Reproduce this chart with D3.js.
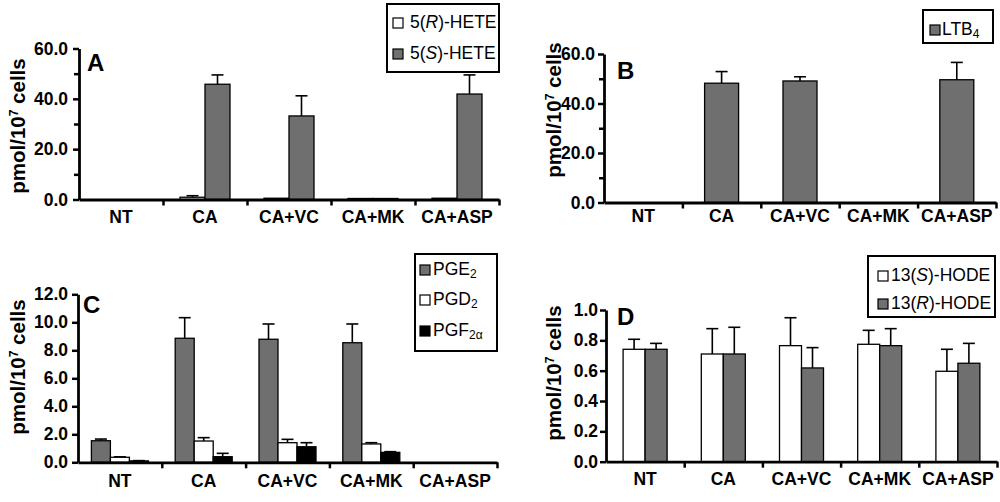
<!DOCTYPE html>
<html>
<head>
<meta charset="utf-8">
<script src="https://cdn.jsdelivr.net/npm/d3@7"></script>
<style>
body { margin: 0; background: #fff; }
text { font-family: "Liberation Sans", Arial, sans-serif; }
</style>
</head>
<body>
<svg id="chart" width="1000" height="502"></svg>
<script>
// categories shared by all four panels
var groups = ["NT", "CA", "CA+VC", "CA+MK", "CA+ASP"];

// panel A: 5-HETE enantiomers
var hete5R    = [0, 0.9, 0.5, 0.4, 0.5];
var hete5RErr = [0, 0.6, 0, 0, 0];
var hete5S    = [0, 45.8, 33.2, 0.4, 41.9];
var hete5SErr = [0, 3.7, 8.0, 0, 7.6];

// panel B: LTB4
var ltb4    = [0, 48.2, 49.1, 0, 49.6];
var ltb4Err = [0, 4.7, 1.7, 0, 7.0];

// panel C: prostaglandins
var pge2     = [1.54, 8.86, 8.79, 8.54, 0];
var pge2Err  = [0.12, 1.47, 1.09, 1.34, 0];
var pgd2     = [0.36, 1.52, 1.40, 1.31, 0];
var pgd2Err  = [0.03, 0.24, 0.24, 0.09, 0];
var pgf2a    = [0.10, 0.40, 1.11, 0.71, 0];
var pgf2aErr = [0.02, 0.24, 0.29, 0.05, 0];

// panel D: 13-HODE enantiomers
var hode13S    = [0.741, 0.710, 0.765, 0.774, 0.596];
var hode13SErr = [0.066, 0.167, 0.184, 0.092, 0.145];
var hode13R    = [0.741, 0.710, 0.618, 0.765, 0.649];
var hode13RErr = [0.039, 0.176, 0.134, 0.112, 0.131];

var GREY = "#6f6f6f", WHITE = "#ffffff", BLACK = "#000000";

var svg = d3.select("#chart");

var panels = [
  { id: "A", left: 79, right: 499, bottom: 199.5, top: 48.5, max: 60, step: 20, minor: true, barW: 25,
    title: [87, 71], ylab: [25, 126], xlabY: 223, pad: 5,
    series: [
      { values: hete5R, err: hete5RErr, color: WHITE, label: [["5("], ["R", "i"], [")-HETE"]] },
      { values: hete5S, err: hete5SErr, color: GREY,  label: [["5("], ["S", "i"], [")-HETE"]] }
    ],
    legend: { x: 387, y: 4, w: 112, h: 68, sx: 393, tx: 410, rows: [18, 49] } },
  { id: "B", left: 604, right: 996, bottom: 202.5, top: 54, max: 60, step: 20, minor: true, barW: 34,
    title: [617, 79], ylab: [561, 110], xlabY: 222, pad: 3,
    series: [
      { values: ltb4, err: ltb4Err, color: GREY, label: [["LTB"], ["4", "s"]] }
    ],
    legend: { x: 923, y: 10, w: 70, h: 33, sx: 930, tx: 942, rows: [25] } },
  { id: "C", left: 78, right: 497, bottom: 462.3, top: 294.3, max: 12, step: 2, minor: false, barW: 19,
    title: [83, 313], ylab: [25, 367], xlabY: 487, pad: 4,
    series: [
      { values: pge2,  err: pge2Err,  color: GREY,  label: [["PGE"], ["2", "s"]] },
      { values: pgd2,  err: pgd2Err,  color: WHITE, label: [["PGD"], ["2", "s"]] },
      { values: pgf2a, err: pgf2aErr, color: BLACK, label: [["PGF"], ["2\u03b1", "s"]] }
    ],
    legend: { x: 415, y: 254, w: 82, h: 97, sx: 420, tx: 433, rows: [265, 295, 326] } },
  { id: "D", left: 606, right: 997, bottom: 461.7, top: 310, max: 1, step: 0.2, minor: false, barW: 22,
    title: [617, 325], ylab: [561, 373], xlabY: 485, pad: 2,
    series: [
      { values: hode13S, err: hode13SErr, color: WHITE, label: [["13("], ["S", "i"], [")-HODE"]] },
      { values: hode13R, err: hode13RErr, color: GREY,  label: [["13("], ["R", "i"], [")-HODE"]] }
    ],
    legend: { x: 868, y: 256, w: 127, h: 61, sx: 878, tx: 891, rows: [271, 299] } }
];

function addParts(textSel, parts) {
  parts.forEach(function (p) {
    var t = textSel.append("tspan").text(p[0]);
    if (p[1] == "i") t.attr("font-style", "italic");
    if (p[1] == "s") t.attr("font-size", "12px").attr("baseline-shift", "-3");
  });
}

function drawPanel(p) {
  var g = svg.append("g").attr("class", "panel-" + p.id);
  var x = d3.scaleBand().domain(groups).range([p.left, p.right]);
  var y = d3.scaleLinear().domain([0, p.max]).range([p.bottom, p.top]);
  var n = p.series.length;
  var off = d3.scaleBand().domain(d3.range(n)).range([-n * p.barW / 2, n * p.barW / 2]);

  p.series.forEach(function (s, i) {
    var data = groups.map(function (gr, j) {
      return { g: gr, v: s.values[j], e: s.err[j] };
    }).filter(function (d) { return d.v > 0; });

    var cx = function (d) { return x(d.g) + x.bandwidth() / 2 + off(i) + p.barW / 2; };

    // error bars (upper only)
    var eb = data.filter(function (d) { return d.e > 0; });
    g.selectAll(null).data(eb).enter().append("line")
      .attr("x1", cx).attr("x2", cx)
      .attr("y1", function (d) { return y(d.v); })
      .attr("y2", function (d) { return y(d.v + d.e); })
      .attr("stroke", "#000").attr("stroke-width", 1.6);
    g.selectAll(null).data(eb).enter().append("line")
      .attr("x1", function (d) { return cx(d) - 6; })
      .attr("x2", function (d) { return cx(d) + 6; })
      .attr("y1", function (d) { return y(d.v + d.e); })
      .attr("y2", function (d) { return y(d.v + d.e); })
      .attr("stroke", "#000").attr("stroke-width", 1.6);

    g.selectAll(null).data(data).enter().append("rect")
      .attr("x", function (d) { return x(d.g) + x.bandwidth() / 2 + off(i); })
      .attr("y", function (d) { return y(d.v); })
      .attr("width", p.barW)
      .attr("height", function (d) { return Math.max(1, y(0) - y(d.v)); })
      .attr("fill", s.color)
      .attr("stroke", "#000")
      .attr("stroke-width", 1.3);
  });

  // y axis
  var majors = d3.range(0, p.max + p.step / 2, p.step);
  var yAxis = g.append("g").attr("transform", "translate(" + p.left + ",0)")
    .call(d3.axisLeft(y).tickValues(majors).tickFormat(d3.format(".1f"))
      .tickSize(6).tickSizeOuter(0).tickPadding(p.pad));
  if (p.minor) {
    var minors = majors.slice(1).map(function (v) { return v - p.step / 2; });
    g.append("g").attr("transform", "translate(" + p.left + ",0)")
      .call(d3.axisLeft(y).tickValues(minors).tickFormat("").tickSize(5).tickSizeOuter(0))
      .call(function (a) { a.select(".domain").remove(); })
      .selectAll("line").attr("stroke-width", 2.5);
  }
  yAxis.select(".domain").attr("stroke-width", 2.8);
  yAxis.selectAll(".tick line").attr("stroke-width", 2.5);
  yAxis.selectAll(".tick text")
    .attr("font-family", "'Liberation Sans', Arial, sans-serif")
    .attr("font-size", "17.5px").attr("font-weight", "bold").attr("fill", "#000");

  // x axis: ticks at category boundaries, labels at centres
  var xb = d3.scaleLinear().domain([0, groups.length]).range([p.left, p.right]);
  var xAxis = g.append("g").attr("transform", "translate(0," + p.bottom + ")")
    .call(d3.axisBottom(xb).tickValues(d3.range(1, groups.length + 1)).tickFormat("")
      .tickSize(6).tickSizeOuter(0));
  xAxis.select(".domain").attr("stroke-width", 2.8);
  xAxis.selectAll(".tick line").attr("stroke-width", 2.5);

  g.selectAll(null).data(groups).enter().append("text")
    .attr("x", function (d) { return x(d) + x.bandwidth() / 2; })
    .attr("y", p.xlabY)
    .attr("text-anchor", "middle")
    .attr("font-size", "17.5px").attr("font-weight", "bold")
    .text(function (d) { return d; });

  // y label
  var yl = g.append("text")
    .attr("transform", "translate(" + p.ylab[0] + "," + p.ylab[1] + ") rotate(-90)")
    .attr("text-anchor", "middle")
    .attr("font-size", "20.5px").attr("font-weight", "bold");
  yl.append("tspan").text("pmol/10");
  yl.append("tspan").text("7").attr("font-size", "12px").attr("baseline-shift", "7");
  yl.append("tspan").text(" cells");

  // panel letter
  g.append("text").attr("x", p.title[0]).attr("y", p.title[1])
    .attr("font-size", "24px").attr("font-weight", "bold").text(p.id);

  // legend
  var L = p.legend;
  var lg = g.append("g").attr("class", "legend");
  lg.append("rect").attr("x", L.x).attr("y", L.y).attr("width", L.w).attr("height", L.h)
    .attr("fill", "#fff").attr("stroke", "#000").attr("stroke-width", 2);
  p.series.forEach(function (s, i) {
    lg.append("rect").attr("x", L.sx).attr("y", L.rows[i]).attr("width", 10).attr("height", 10)
      .attr("fill", s.color).attr("stroke", "#000").attr("stroke-width", 1.2);
    var t = lg.append("text").attr("x", L.tx).attr("y", L.rows[i] + 10).attr("font-size", "17.5px");
    addParts(t, s.label);
  });
}

panels.forEach(drawPanel);
</script>
</body>
</html>
